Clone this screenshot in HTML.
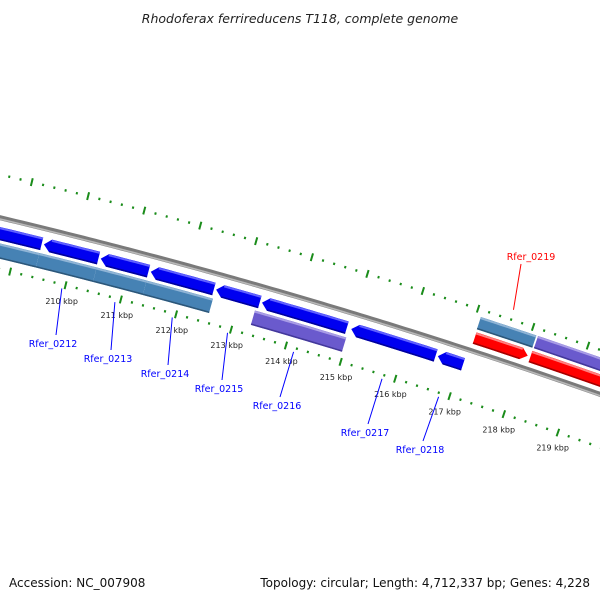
<!DOCTYPE html>
<html><head><meta charset="utf-8"><style>
html,body{margin:0;padding:0;background:#fff}
svg{display:block}
text{font-family:"DejaVu Sans","Liberation Sans",sans-serif}
</style></head><body>
<svg id="map" width="600" height="600" xmlns="http://www.w3.org/2000/svg">
<text x="300" y="23" text-anchor="middle" font-size="12.5" font-style="italic" fill="#222">Rhodoferax ferrireducens T118, complete genome</text>
<text x="9" y="587" font-size="12" fill="#111">Accession: NC_007908</text>
<text x="590" y="587" font-size="12" text-anchor="end" fill="#111">Topology: circular; Length: 4,712,337 bp; Genes: 4,228</text>
<g id="layer"></g>
</svg>
<script>
// data (kbp)
const reverseGeneStarts = [207.9, 209.46, 210.48, 211.38, 212.56, 213.39, 215.01, 216.59];
const reverseGeneEnds   = [209.42, 210.44, 211.34, 212.52, 213.35, 214.93, 216.55, 217.05];
const reverseCogStarts = [207.9, 209.42, 210.45, 211.35, 213.31];
const reverseCogEnds   = [209.42, 210.45, 211.35, 212.55, 214.97];
const reverseCogClass  = ["steel", "steel", "steel", "steel", "purple"];
const forwardGeneStarts = [217.1, 218.12];
const forwardGeneEnds   = [218.07, 222.5];
const forwardCogStarts = [217.09, 218.13];
const forwardCogEnds   = [218.10, 222.5];
const forwardCogClass  = ["steel", "purple"];
const tickLabels = ["210 kbp","211 kbp","212 kbp","213 kbp","214 kbp","215 kbp","216 kbp","217 kbp","218 kbp","219 kbp"];
const tickValues = [210,211,212,213,214,215,216,217,218,219];
const geneLabels = ["Rfer_0212","Rfer_0213","Rfer_0214","Rfer_0215","Rfer_0216","Rfer_0217","Rfer_0218"];
const geneLabelGene = [1,2,3,4,5,6,7];
const geneLabelPos = [[53,347],[108,362],[165,377],[219,392],[277,409],[365,436],[420,453]];

const NS="http://www.w3.org/2000/svg";
const layer=document.getElementById('layer');
const CX=-1392, CY=6054, R=6000;
function ang(k){return (14.18+0.55*(k-210))*Math.PI/180;}
function pt(k,r){const a=ang(k);return [CX+r*Math.sin(a), CY-r*Math.cos(a)];}
function el(tag,attrs){const e=document.createElementNS(NS,tag);for(const k in attrs)e.setAttribute(k,attrs[k]);layer.appendChild(e);return e;}
function arcPts(k0,k1,r){const n=Math.max(2,Math.ceil((k1-k0)/0.1));const p=[];for(let i=0;i<=n;i++)p.push(pt(k0+(k1-k0)*i/n,r));return p;}
function poly(p){return p.map(q=>q[0].toFixed(2)+','+q[1].toFixed(2)).join(' ');}
function line(p){return 'M'+p.map(q=>q[0].toFixed(2)+' '+q[1].toFixed(2)).join(' L');}
const COL={blue:['#0000f0','#6060ff','#00009a'],red:['#ff0000','#ff8080','#a00000'],steel:['#4682b4','#8fb4d6','#2c5678'],purple:['#6a5acd','#a89ce6','#43389a']};
function feature(k0,k1,r0,r1,col,dir,name){
  const h=0.12, rm=(r0+r1)/2; let p;
  if(dir===1){p=arcPts(k0,k1-h,r1).concat([pt(k1,rm)]).concat(arcPts(k0,k1-h,r0).reverse());}
  else if(dir===-1){p=[pt(k0,rm)].concat(arcPts(k0+h,k1,r1)).concat(arcPts(k0+h,k1,r0).reverse());}
  else {p=arcPts(k0,k1,r1).concat(arcPts(k0,k1,r0).reverse());}
  const c=COL[col];
  const g=el('polygon',{points:poly(p),fill:c[0]});
  
  
  const a0=dir===-1?k0+h:k0, a1=dir===1?k1-h:k1;
  const hi=el('path',{d:line(arcPts(a0,a1,r1-1.2)),stroke:c[1],'stroke-width':2,fill:'none'});
  
  
  const sh=el('path',{d:line(arcPts(a0,a1,r0+0.8)),stroke:c[2],'stroke-width':1.5,fill:'none'});
  
  
}
const bb=el('path',{d:line(arcPts(205,223,R)),stroke:'#7a7a7a','stroke-width':5,fill:'none'});


const bb2=el('path',{d:line(arcPts(205,223,R-1.3)),stroke:'#b8b8b8','stroke-width':1.6,fill:'none'});


[6042,5950].forEach((rr,ri)=>{
  for(let i=0;i<=90;i++){const k=205+i*0.2; const major=(i%5===0); const L=major?4:1.2;
    const a=pt(k,rr-L),b=pt(k,rr+L);
    const t=el('line',{x1:a[0],y1:a[1],x2:b[0],y2:b[1],stroke:'#1a8c1a','stroke-width':2});
    
    
  }
});
tickValues.forEach((v,i)=>{const p=pt(v,5934);
  const t=el('text',{x:p[0],y:p[1]+3,'text-anchor':'middle','font-size':8,fill:'#222'});
  t.textContent=tickLabels[i];
  
  
});
reverseCogStarts.forEach((s,i)=>feature(s,reverseCogEnds[i],5960,5975,reverseCogClass[i],0,'reverse-cog-feature'));
reverseGeneStarts.forEach((s,i)=>feature(s,reverseGeneEnds[i],5978,5991,'blue',-1,'reverse-gene'));
forwardGeneStarts.forEach((s,i)=>feature(s,forwardGeneEnds[i],6007,6019,'red',1,'forward-gene'));
forwardCogStarts.forEach((s,i)=>feature(s,forwardCogEnds[i],6022,6035,forwardCogClass[i],0,'forward-cog-feature'));
geneLabels.forEach((lab,i)=>{const gi=geneLabelGene[i];
  const mid=(reverseGeneStarts[gi]+reverseGeneEnds[gi])/2; const a=pt(mid,5946); const q=geneLabelPos[i];
  const l=el('line',{x1:a[0],y1:a[1],x2:q[0]+3,y2:q[1]-12,stroke:'#0000ff','stroke-width':1});
  
  
  const t=el('text',{x:q[0],y:q[1],'text-anchor':'middle','font-size':9.5,fill:'#0000ff'});
  t.textContent=lab;
  
  
});
{const mid=(forwardGeneStarts[0]+forwardGeneEnds[0])/2; const a=pt(mid,6052);
  const l=el('line',{x1:a[0],y1:a[1],x2:521,y2:264,stroke:'#ff0000','stroke-width':1});
  
  
  const t=el('text',{x:531,y:260,'text-anchor':'middle','font-size':9.5,fill:'#ff0000'});
  t.textContent='Rfer_0219';
  
  
}
</script>
</body></html>
